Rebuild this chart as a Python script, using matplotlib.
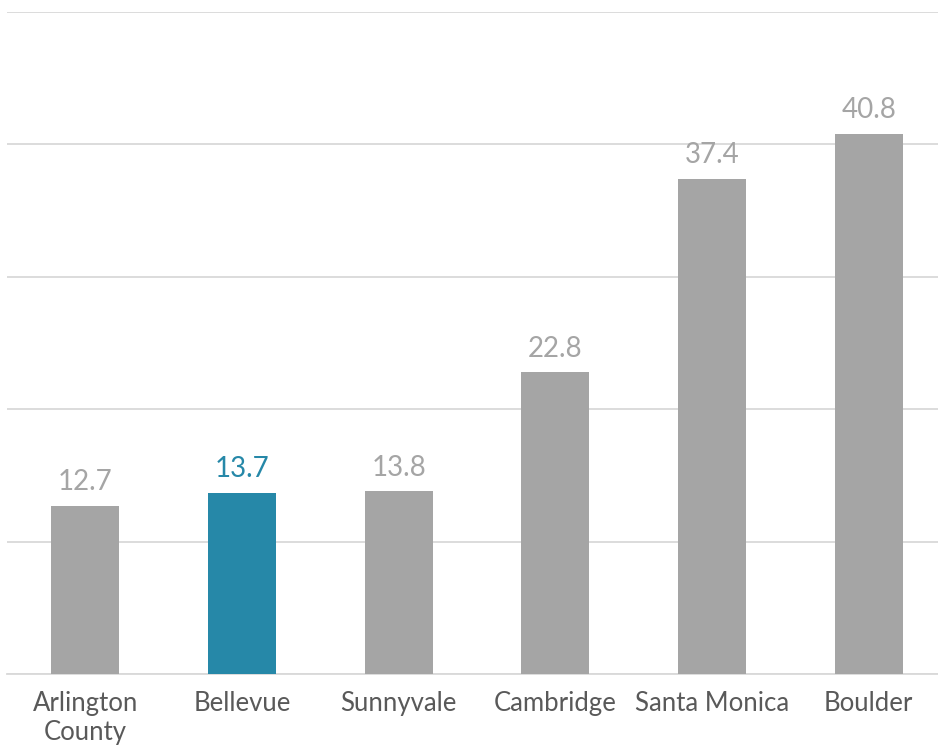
import matplotlib
matplotlib.use("Agg")
import matplotlib.pyplot as plt

plt.rcParams['font.family'] = ['Lato', 'DejaVu Sans']

cities = ["Arlington\nCounty", "Bellevue", "Sunnyvale", "Cambridge", "Santa Monica", "Boulder"]
values = [12.7, 13.7, 13.8, 22.8, 37.4, 40.8]
highlight = "Bellevue"

gray = "#a5a5a5"
blue = "#2688a8"

fig = plt.figure(figsize=(9.38, 7.49), dpi=100)
ax = fig.add_axes([7 / 938, 75 / 749, 940 / 938, 662 / 749])

colors = [blue if c == highlight else gray for c in cities]
bars = ax.bar(range(len(cities)), values, width=0.435, color=colors, zorder=3)

for b, v, c in zip(bars, values, colors):
    ax.text(b.get_x() + b.get_width() / 2, v + 0.8, f"{v:.1f}",
            ha="center", va="bottom", fontsize=20, color=c)

ax.set_xlim(-0.5, len(cities) - 0.5)
ax.set_ylim(0, 50)
ax.set_yticks(range(0, 51, 10))
ax.yaxis.grid(True, color="#d9d9d9", linewidth=1.3, zorder=0)
ax.tick_params(axis="y", left=False, labelleft=False)
ax.tick_params(axis="x", bottom=False, pad=9, labelsize=18.5, labelcolor="#595959")
ax.set_xticks(range(len(cities)))
ax.set_xticklabels(cities, linespacing=1.2)
for s in ["top", "right", "left"]:
    ax.spines[s].set_visible(False)
ax.spines["bottom"].set_color("#d9d9d9")
ax.spines["bottom"].set_linewidth(1.3)

fig.savefig("out.png", dpi=100)
